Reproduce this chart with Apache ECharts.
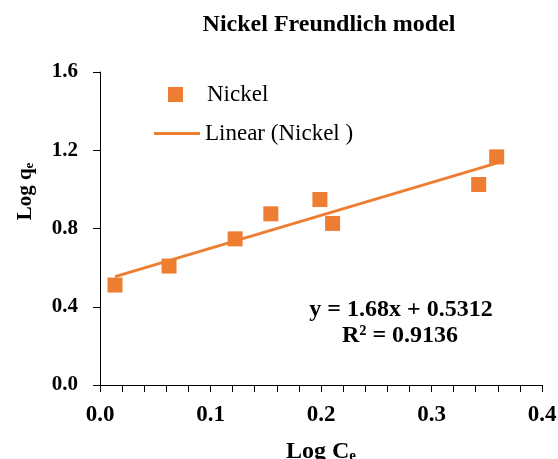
<!DOCTYPE html>
<html>
<head>
<meta charset="utf-8">
<script src="https://cdn.jsdelivr.net/npm/echarts@6/dist/echarts.min.js"></script>
<style>
  html, body { margin: 0; padding: 0; background: #fff; }
  #chart { width: 558px; height: 459px; }
</style>
</head>
<body>
<div id="chart"></div>
<script>
// data
var logCe = [0.0136, 0.0625, 0.1223, 0.1546, 0.199, 0.2105, 0.3427, 0.359]
var logQe = [0.511, 0.608, 0.747, 0.875, 0.948, 0.826, 1.025, 1.166]
var slope = 1.68
var intercept = 0.5312
var r2 = 0.9136
var xTicks = [0, 0.1, 0.2, 0.3, 0.4]
var yTicks = [0, 0.4, 0.8, 1.2, 1.6]

var FONT = 'Liberation Serif'
var ORANGE = '#ED7D31'

var points = logCe.map(function(x, i) { return [x, logQe[i]] })
var xMin = Math.min.apply(null, logCe)
var xMax = Math.max.apply(null, logCe)
var trend = [[xMin, slope * xMin + intercept], [xMax, slope * xMax + intercept]]

var chart = echarts.init(document.getElementById('chart'))

chart.setOption({
  animation: false,
  title: {
    text: 'Nickel Freundlich model',
    left: 324,
    top: 8,
    textAlign: 'center',
    textStyle: { fontFamily: FONT, fontWeight: 'bold', fontSize: 24, color: '#000' }
  },
  legend: [
    {
      data: ['Nickel'],
      left: 163,
      top: 78,
      itemWidth: 15,
      itemHeight: 15,
      textStyle: { fontFamily: FONT, fontSize: 23, color: '#000', padding: [0, 0, 0, 19] }
    },
    {
      data: [{ name: 'Linear (Nickel )', icon: 'rect' }],
      left: 149,
      top: 117,
      itemWidth: 46,
      itemHeight: 3,
      textStyle: { fontFamily: FONT, fontSize: 23, color: '#000' }
    }
  ],
  grid: { left: 100, right: 16, top: 72, bottom: 74, outerBoundsMode: 'none' },
  xAxis: {
    type: 'value',
    min: xTicks[0],
    max: xTicks[xTicks.length - 1],
    interval: 0.1,
    name: '{a|Log C}{b|e}',
    nameLocation: 'middle',
    nameGap: 55,
    nameTextStyle: {
      rich: {
        a: { fontFamily: FONT, fontWeight: 'bold', fontSize: 24, color: '#000' },
        b: { fontFamily: FONT, fontWeight: 'bold', fontSize: 15, color: '#000', verticalAlign: 'bottom', padding: [8, 0, 0, 0] }
      }
    },
    axisLine: { lineStyle: { color: '#000', width: 1 } },
    axisTick: { length: 7, lineStyle: { color: '#000' } },
    minorTick: { show: true, splitNumber: 5, length: 7, lineStyle: { color: '#000' } },
    splitLine: { show: false },
    axisLabel: {
      margin: 19,
      fontFamily: FONT, fontWeight: 'bold', fontSize: 23, color: '#000',
      formatter: function(v) { return v.toFixed(1) }
    }
  },
  yAxis: {
    type: 'value',
    min: yTicks[0],
    max: yTicks[yTicks.length - 1],
    interval: 0.4,
    name: '{a|Log q}{b|e}',
    nameLocation: 'middle',
    nameRotate: 90,
    nameGap: 64,
    nameTextStyle: {
      padding: [0, 0, 0, 74],
      rich: {
        a: { fontFamily: FONT, fontWeight: 'bold', fontSize: 21, color: '#000' },
        b: { fontFamily: FONT, fontWeight: 'bold', fontSize: 13, color: '#000', verticalAlign: 'bottom', padding: [7, 0, 0, 0] }
      }
    },
    axisLine: { show: true, lineStyle: { color: '#000', width: 1 } },
    axisTick: { show: true, length: 7, lineStyle: { color: '#000' } },
    splitLine: { show: false },
    axisLabel: {
      margin: 22,
      fontFamily: FONT, fontWeight: 'bold', fontSize: 21, color: '#000',
      formatter: function(v) { return v.toFixed(1) }
    }
  },
  graphic: [
    {
      type: 'text',
      x: 401, y: 310,
      style: {
        text: 'y = ' + slope.toFixed(2) + 'x + ' + intercept,
        textAlign: 'center',
        textVerticalAlign: 'middle',
        fontFamily: FONT, fontWeight: 'bold', fontSize: 24, fill: '#000'
      }
    },
    {
      type: 'text',
      x: 400, y: 336,
      style: {
        text: 'R\u00b2 = ' + r2,
        textAlign: 'center',
        textVerticalAlign: 'middle',
        fontFamily: FONT, fontWeight: 'bold', fontSize: 24, fill: '#000'
      }
    }
  ],
  series: [
    {
      name: 'Nickel',
      type: 'scatter',
      symbol: 'rect',
      symbolSize: 15,
      itemStyle: { color: ORANGE, opacity: 1 },
      data: points,
      z: 3
    },
    {
      name: 'Linear (Nickel )',
      type: 'line',
      symbol: 'none',
      lineStyle: { color: ORANGE, width: 3 },
      itemStyle: { color: ORANGE },
      data: trend,
      z: 2
    }
  ]
})
</script>
</body>
</html>
